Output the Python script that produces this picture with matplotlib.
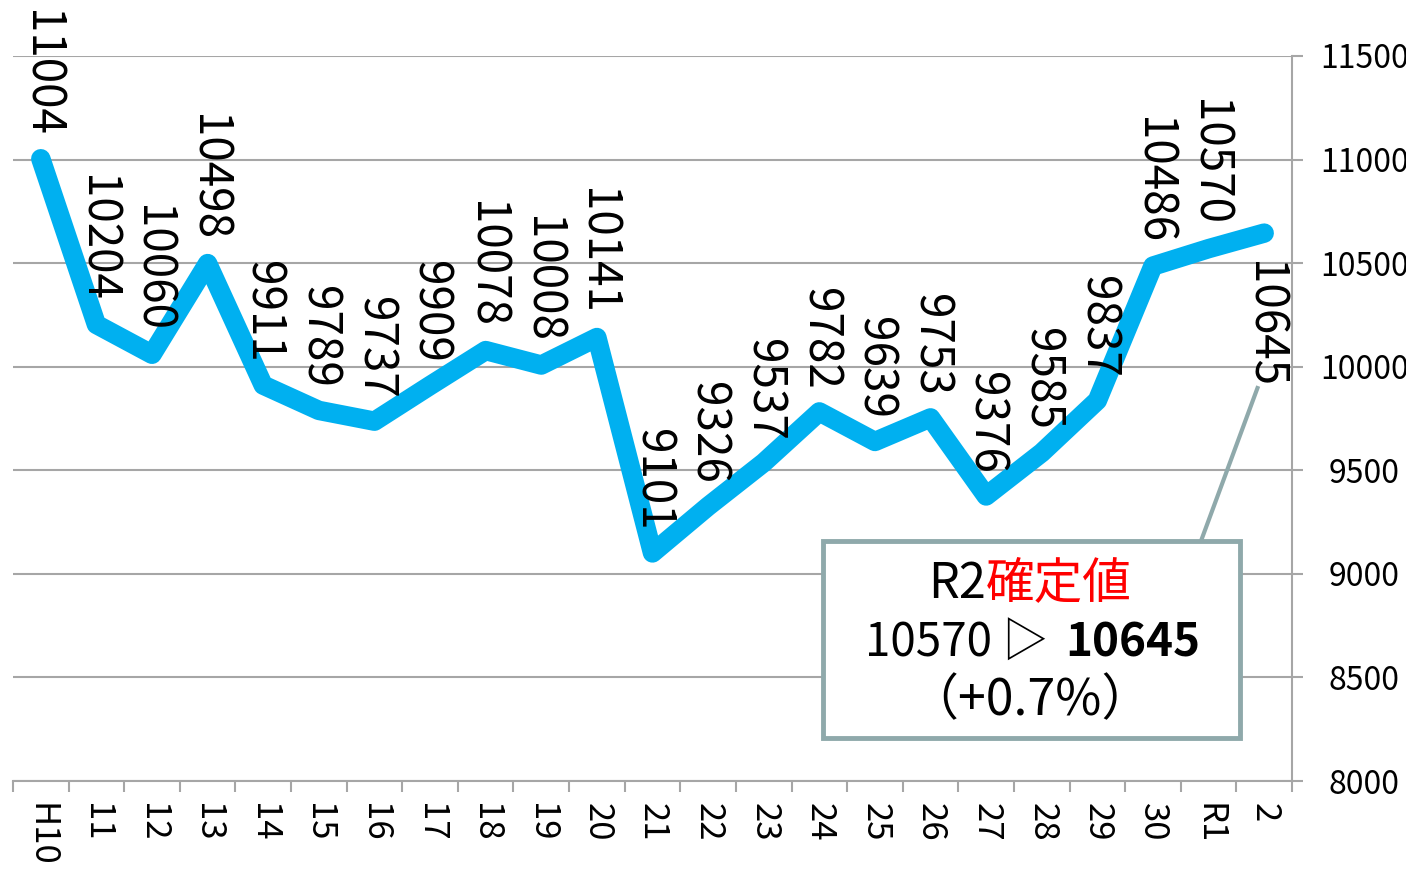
import matplotlib
matplotlib.use("Agg")
import matplotlib.pyplot as plt
from matplotlib.patches import Rectangle
import numpy as np

plt.rcParams['font.family'] = ['Noto Sans CJK JP', 'DejaVu Sans']

# data
years = ["H10", "11", "12", "13", "14", "15", "16", "17", "18", "19", "20", "21",
         "22", "23", "24", "25", "26", "27", "28", "29", "30", "R1", "2"]
values = [11004, 10204, 10060, 10498, 9911, 9789, 9737, 9909, 10078, 10008, 10141,
          9101, 9326, 9537, 9782, 9639, 9753, 9376, 9585, 9837, 10486, 10570, 10645]
label_below = ["2"]  # labels drawn under the point

y_ticks = [8000, 8500, 9000, 9500, 10000, 10500, 11000, 11500]

LINE_BLUE = "#00B0F0"
GRID = "#A6A6A6"
BOX_EDGE = "#8FA9AB"

fig = plt.figure(figsize=(14.06, 8.69), dpi=100)
ax = fig.add_axes([13 / 1406, 88 / 869, 1279 / 1406, 725 / 869])

x = np.arange(len(years))
ax.plot(x, values, color=LINE_BLUE, lw=14, solid_capstyle="round",
        solid_joinstyle="round", zorder=3, clip_on=False)

for xi, v, lab in zip(x, values, years):
    if lab in label_below:
        ax.annotate(str(v), (xi, v), xytext=(0, -20), textcoords="offset points",
                    rotation=270, ha="center", va="top", fontsize=33, zorder=4)
    else:
        ax.annotate(str(v), (xi, v), xytext=(0, 16), textcoords="offset points",
                    rotation=270, ha="center", va="bottom", fontsize=33, zorder=4)

ax.set_xlim(-0.5, len(years) - 0.5)
ax.set_ylim(8000, 11500)

# axes styling
for side in ["top", "left"]:
    ax.spines[side].set_visible(False)
for side in ["bottom", "right"]:
    ax.spines[side].set_color(GRID)
    ax.spines[side].set_linewidth(1.5)

ax.set_yticks(y_ticks)
ax.yaxis.tick_right()
ax.tick_params(axis="y", length=8, width=1.5, color=GRID, labelsize=23, pad=44)
for t in ax.get_yticklabels():
    t.set_horizontalalignment("center")
ax.grid(axis="y", color=GRID, lw=1.5)
ax.set_axisbelow(True)

ax.set_xticks(x)
ax.set_xticklabels(years, rotation=270, fontsize=25)
ax.set_xticks(np.arange(len(years) + 1) - 0.5, minor=True)
ax.tick_params(axis="x", which="major", length=0, pad=16)
ax.tick_params(axis="x", which="minor", length=8, width=1.5, color=GRID)

# callout box
ax.plot([0.919, 0.973], [0.284, 0.542], transform=ax.transAxes,
        color=BOX_EDGE, lw=3, zorder=5, clip_on=False)
ax.add_patch(Rectangle((0.633, 0.059), 0.326, 0.272, transform=ax.transAxes,
                       facecolor="white", edgecolor=BOX_EDGE, lw=3.5, zorder=6))
ax.text(0.761, 0.272, "R2", transform=ax.transAxes, ha="right", va="center",
        fontsize=35, zorder=7)
ax.text(0.761, 0.272, "確定値", transform=ax.transAxes, ha="left", va="center",
        fontsize=35, color="#FF0000", zorder=7)
ax.text(0.809, 0.19, "10570 ▷", transform=ax.transAxes, ha="right", va="center",
        fontsize=33, zorder=7)
ax.text(0.823, 0.19, "10645", transform=ax.transAxes, ha="left", va="center",
        fontsize=33, fontweight="bold", zorder=7)
ax.text(0.795, 0.11, "（+0.7%）", transform=ax.transAxes, ha="center", va="center",
        fontsize=36, zorder=7)

fig.savefig("out.png", dpi=100)
